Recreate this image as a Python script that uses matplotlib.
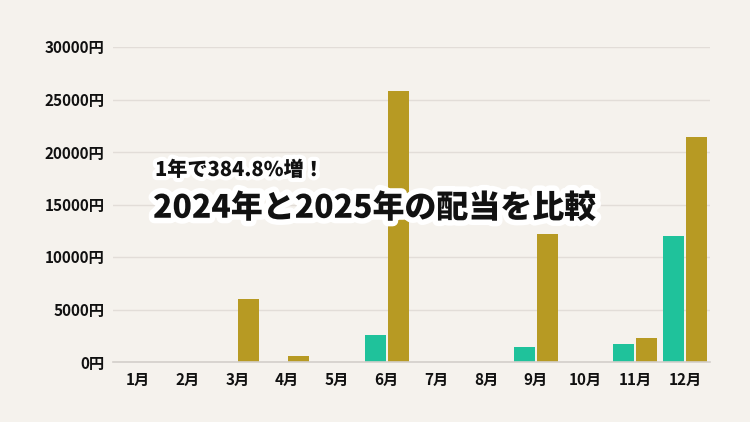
import matplotlib
matplotlib.use("Agg")
import matplotlib.pyplot as plt
import matplotlib.patheffects as pe
import numpy as np

months = ["1月", "2月", "3月", "4月", "5月", "6月", "7月", "8月", "9月", "10月", "11月", "12月"]
div_2024 = [0, 0, 0, 0, 0, 2570, 0, 0, 1430, 0, 1700, 12000]
div_2025 = [0, 0, 6000, 550, 0, 25800, 0, 0, 12200, 0, 2300, 21400]
yticks = [0, 5000, 10000, 15000, 20000, 25000, 30000]
subtitle = "1年で384.8%増！"
title = "2024年と2025年の配当を比較"

plt.rcParams['font.family'] = ['Noto Sans CJK JP', 'DejaVu Sans']
bg = "#f5f2ed"
fig = plt.figure(figsize=(7.5, 4.22), dpi=100, facecolor=bg)
ax = fig.add_axes([113/750, 1-362/422, (710-113)/750, (362-47)/422], facecolor=bg)

x = np.arange(len(months))
w = 0.42
ax.bar(x - w/2 - 0.02, div_2024, width=w, color="#1fc29b", zorder=3)
ax.bar(x + w/2 + 0.02, div_2025, width=w, color="#b79a23", zorder=3)

ax.set_xlim(-0.5, len(months) - 0.5)
ax.set_ylim(0, 30000)
ax.set_yticks(yticks)
ax.set_yticklabels([f"{v}円" for v in yticks], fontsize=11, fontweight="bold", color="#111111")
ax.set_xticks(x)
ax.set_xticklabels(months, fontsize=11, fontweight="bold", color="#111111")
ax.tick_params(axis="both", length=0)
ax.tick_params(axis="y", pad=6)
ax.tick_params(axis="x", pad=7)
ax.grid(axis="y", color="#e2ddd8", linewidth=1, zorder=0)
for s in ["top", "right", "left"]:
    ax.spines[s].set_visible(False)
ax.spines["bottom"].set_color("#d3cfcb")
ax.spines["bottom"].set_linewidth(1.2)
ax.spines["bottom"].set_zorder(4)

stroke = [pe.withStroke(linewidth=6, foreground="white")]
fig.text(155/750, 1-170/422, subtitle, fontsize=14.5, fontweight="black", color="#111111",
         va="center", ha="left", path_effects=stroke, zorder=10)
fig.text(153/750, 1-208/422, title, fontsize=23, fontweight="black", color="#111111",
         va="center", ha="left", path_effects=[pe.withStroke(linewidth=8, foreground="white")], zorder=10)

fig.savefig("out.png", dpi=100, facecolor=bg)
